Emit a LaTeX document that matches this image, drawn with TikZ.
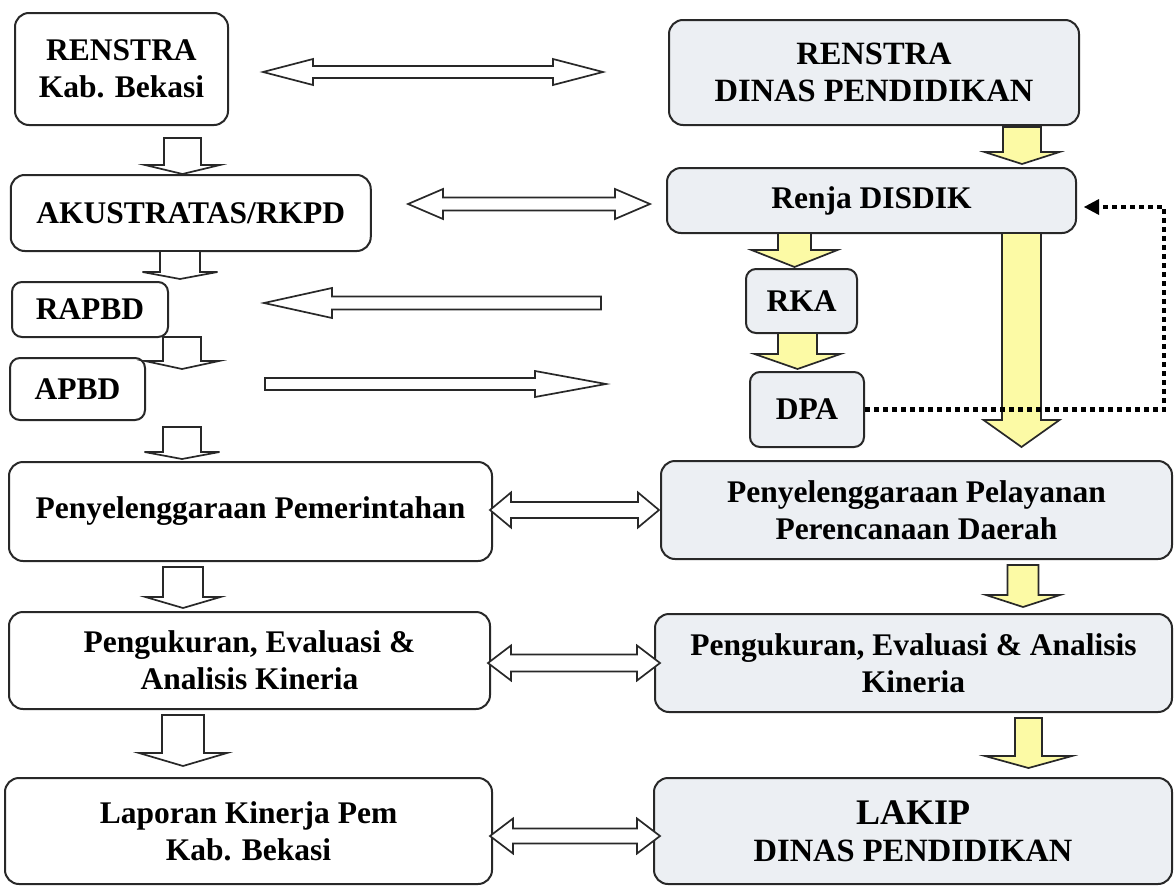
\documentclass[tikz,border=0pt]{standalone}
\usepackage{fontspec}
\setmainfont{Liberation Serif}
\usetikzlibrary{arrows.meta}
\definecolor{boxgray}{RGB}{236,239,243}
\definecolor{paleyel}{RGB}{252,250,165}
\definecolor{edge}{RGB}{40,40,40}
\newcommand\vblk[7]{%
  \draw[#1] (#2-#6,#3) -- (#2+#6,#3) -- (#2+#6,#4) -- (#2+#7,#4) -- (#2,#5)
    -- (#2-#7,#4) -- (#2-#6,#4) -- cycle;}
\newcommand\hdbl[7]{%
  \draw[#1] (#2,#4) -- (#2+#7,#4-#6) -- (#2+#7,#4-#5) -- (#3-#7,#4-#5) -- (#3-#7,#4-#6)
    -- (#3,#4) -- (#3-#7,#4+#6) -- (#3-#7,#4+#5) -- (#2+#7,#4+#5) -- (#2+#7,#4+#6) -- cycle;}
\newcommand\hleft[7]{%
  \draw[#1] (#2,#4) -- (#2+#7,#4-#6) -- (#2+#7,#4-#5) -- (#3,#4-#5) -- (#3,#4+#5)
    -- (#2+#7,#4+#5) -- (#2+#7,#4+#6) -- cycle;}
\newcommand\hright[7]{%
  \draw[#1] (#3,#4) -- (#3-#7,#4-#6) -- (#3-#7,#4-#5) -- (#2,#4-#5) -- (#2,#4+#5)
    -- (#3-#7,#4+#5) -- (#3-#7,#4+#6) -- cycle;}
\begin{document}
\begin{tikzpicture}[x=1pt,y=-1pt,
  basebox/.style={draw=edge, line width=2pt, rounded corners=14pt, align=center,
    inner sep=0pt, font=\fontsize{31.5}{37}\selectfont\bfseries},
  lbox/.style={basebox, fill=white},
  rbox/.style={basebox, fill=boxgray},
  smallr/.style={rbox, rounded corners=10pt},
  smalll/.style={lbox, rounded corners=10pt},
  warrow/.style={draw=edge, line width=1.7pt, fill=white, line join=miter},
  yarrow/.style={draw=edge, line width=1.7pt, fill=paleyel, line join=miter},
  dotl/.style={line width=4.5pt, dash pattern=on 5pt off 4pt}]
\useasboundingbox[fill=white] (0,0) rectangle (1175,886);

% left column
\node[lbox, minimum width=213pt, minimum height=112pt] (rk) at (121.5,69) {RENSTRA\\Kab. Bekasi};
\node[lbox, minimum width=360pt, minimum height=76pt] (ak) at (190.75,213) {AKUSTRATAS/RKPD};
\node[smalll, minimum width=156pt, minimum height=55pt] (rap) at (90,309.5) {RAPBD};
\node[smalll, minimum width=135pt, minimum height=62pt] (apb) at (77.5,389) {APBD};
\node[lbox, minimum width=483pt, minimum height=99pt] (pl) at (250.5,511.5) {Penyelenggaraan Pemerintahan};
\node[lbox, minimum width=481pt, minimum height=97pt] (gl) at (249.5,660.5) {Pengukuran, Evaluasi \&\\Analisis Kineria};
\node[lbox, minimum width=487pt, minimum height=106pt] (ll) at (248.5,831) {Laporan Kinerja Pem\\Kab. Bekasi};

% right column
\node[rbox, minimum width=410pt, minimum height=105pt, font=\fontsize{32.5}{37}\selectfont\bfseries] (rr) at (874,72.5) {RENSTRA\\DINAS PENDIDIKAN};
\node[rbox, minimum width=409pt, minimum height=65pt] (rj) at (871.5,200.5) {Renja DISDIK};
\node[smallr, minimum width=111pt, minimum height=64pt] (rka) at (801.5,301) {RKA};
\node[smallr, minimum width=114pt, minimum height=75pt] (dpa) at (807,409.5) {DPA};
\node[rbox, minimum width=511pt, minimum height=98pt] (pr) at (916.5,510) {Penyelenggaraan Pelayanan\\Perencanaan Daerah};
\node[rbox, minimum width=517pt, minimum height=98pt] (gr) at (913.5,663) {Pengukuran, Evaluasi \& Analisis\\Kineria};
\node[rbox, minimum width=518pt, minimum height=106pt] (lk) at (913,831)
  {{\fontsize{36}{38}\selectfont LAKIP}\\{\fontsize{32.5}{38}\selectfont DINAS PENDIDIKAN}};

% left vertical block arrows
\vblk{warrow}{182.5}{138}{165}{174}{18.5}{37.5}
\vblk{warrow}{180}{251}{272}{279}{20}{37.5}
\vblk{warrow}{182}{337}{361}{369}{19}{37}
\vblk{warrow}{182}{427}{452}{459}{19}{37.5}
\vblk{warrow}{183}{567}{597}{608}{20}{37.5}
\vblk{warrow}{183}{715}{753}{766}{21}{44}

% right vertical block arrows (yellow)
\vblk{yarrow}{1022}{127}{152}{164}{19}{37.5}
\vblk{yarrow}{794.5}{233}{250}{267}{16.5}{43}
\vblk{yarrow}{797.5}{333}{354}{369}{19.5}{43}
\vblk{yarrow}{1023}{565}{595}{607}{15.5}{37}
\vblk{yarrow}{1028.5}{718}{756}{768}{13.5}{43.5}
\vblk{yarrow}{1021.5}{233}{420}{447}{19.5}{38}

% horizontal block arrows
\hdbl{warrow}{263}{603}{72}{6}{13}{50}
\hdbl{warrow}{408}{650}{204}{6.5}{15}{35}
\hleft{warrow}{264}{601}{303}{6.5}{15}{68}
\hright{warrow}{265}{606}{384}{6}{13}{71}
\hdbl{warrow}{490}{659}{510}{8}{17.5}{21}
\hdbl{warrow}{488}{660}{663}{8.5}{17.5}{23}
\hdbl{warrow}{490}{660}{836}{7.5}{17.5}{23}

% dotted feedback DPA -> Renja
\coordinate (d1) at (1164,207);
\coordinate (d2) at (1098,207);
\coordinate (d3) at (1084,207);
\draw[dotl] (dpa.east) -| (d1) -- (d2);
\fill[black] (d3) -- ++(15,-8) -- ++(0,16) -- cycle;
\end{tikzpicture}
\end{document}
